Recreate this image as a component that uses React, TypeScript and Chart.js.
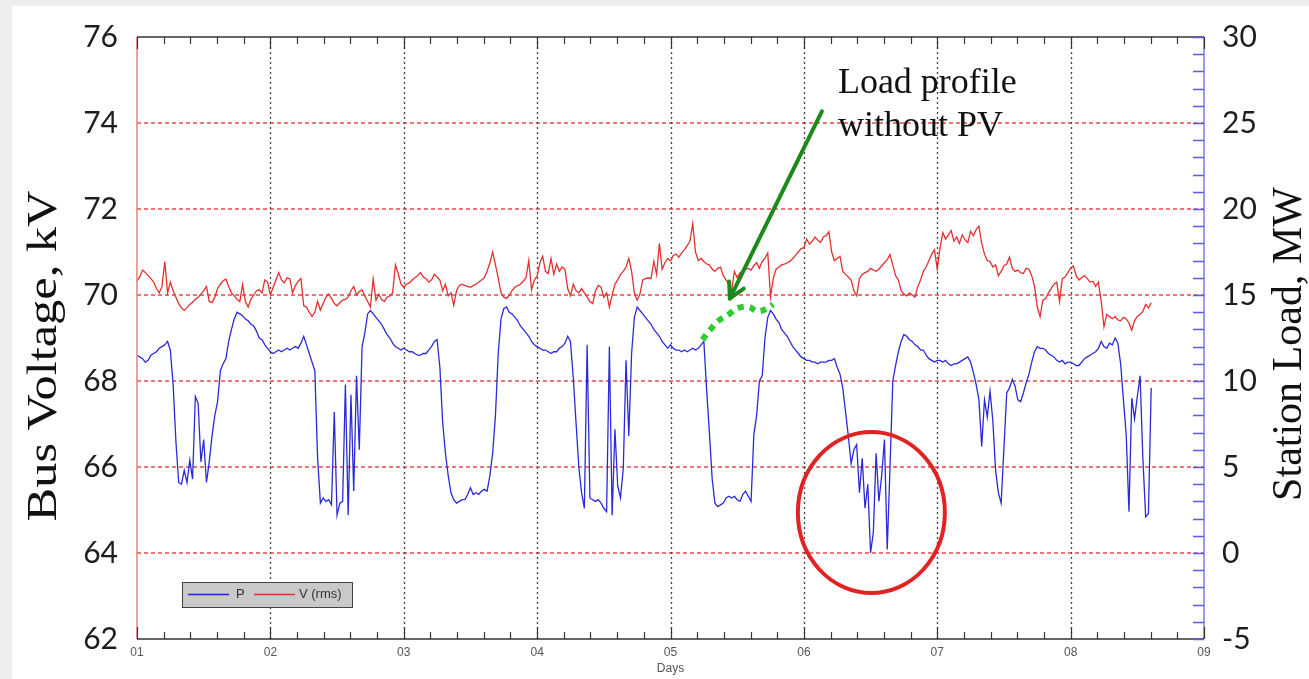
import React, { useEffect, useRef } from "react";
import { Chart, registerables } from "chart.js";
Chart.register(...registerables);

// ---- sampling of the recorded series (days 01..09, half-hour samples)
const DAY_START = 1;
const SAMPLES_PER_DAY = 48;

// ---- Station load P (MW), half-hourly, per day
const pDay1 = [11.5,11.4,11.3,11.1,11.2,11.5,11.6,11.7,11.9,12.0,12.1,12.3,11.8,9.8,6.5,4.1,4.0,4.8,4.1,5.4,4.3,9.1,8.7,5.3,6.6,4.1,5.3,6.8,8.0,8.8,10.6,11.0,11.3,12.3,13.0,13.6,14.0,13.9,13.8,13.6,13.5,13.3,13.2,12.9,12.5,12.4,12.1,11.9];
const pDay2 = [11.7,11.6,11.7,11.8,11.7,11.8,11.9,11.8,11.9,12.0,11.9,12.2,12.6,12.1,11.6,11.1,10.6,5.5,2.9,3.2,3.0,3.1,2.8,8.2,2.2,2.9,3.0,9.8,2.2,9.2,3.6,10.3,6.0,12.0,12.8,13.9,14.1,13.9,13.7,13.5,13.3,13.0,12.7,12.5,12.2,12.0,11.9,11.8];
const pDay3 = [11.9,11.8,11.7,11.7,11.6,11.5,11.5,11.6,11.6,11.8,12.0,12.3,12.4,10.8,7.6,5.8,4.5,3.5,3.1,2.9,3.0,3.1,3.1,3.4,3.8,3.4,3.5,3.4,3.6,3.7,3.6,4.5,5.8,8.0,11.6,13.6,14.2,14.3,14.0,13.9,13.7,13.5,13.2,13.0,12.8,12.6,12.3,12.1];
const pDay4 = [12.0,11.9,11.8,11.8,11.7,11.6,11.7,11.7,11.9,12.0,12.2,12.6,12.3,10.2,7.6,5.0,3.5,2.6,12.1,3.2,3.1,3.0,3.1,2.9,2.6,2.4,12.0,2.2,7.2,3.9,3.2,4.9,11.2,6.8,11.6,13.7,14.3,14.1,13.9,13.7,13.5,13.3,13.0,12.8,12.6,12.3,12.1,11.9];
const pDay5 = [12.1,11.9,11.8,11.8,11.7,11.8,11.7,11.8,11.9,11.8,11.9,12.1,12.3,9.5,7.0,4.3,2.9,2.7,2.8,2.9,3.2,3.3,3.2,3.3,3.1,3.0,3.4,3.6,3.3,3.0,6.9,8.0,10.0,10.3,12.5,13.7,14.1,13.9,13.6,13.4,13.0,12.8,12.6,12.3,12.0,11.8,11.6,11.4];
const pDay6 = [11.3,11.2,11.2,11.1,11.1,11.0,11.1,11.1,11.1,11.2,11.2,11.3,10.8,10.4,9.6,8.2,6.8,5.2,6.0,6.3,3.5,5.5,2.6,4.0,0.0,1.2,5.8,3.0,4.5,6.6,0.2,5.0,10.0,10.9,11.7,12.3,12.7,12.6,12.4,12.3,12.1,12.0,11.8,11.8,11.5,11.3,11.2,11.1];
const pDay7 = [11.2,11.2,11.1,11.2,11.0,10.9,11.0,11.0,11.1,11.2,11.3,11.4,11.1,10.5,9.8,8.9,6.2,8.9,7.9,9.4,7.7,4.8,3.5,2.9,6.1,9.3,9.6,10.1,9.7,8.9,8.8,9.3,9.9,10.4,11.1,11.7,12.0,11.9,11.9,11.8,11.6,11.5,11.4,11.2,11.1,11.2,11.0,11.1];
const pDay8 = [11.1,11.0,10.9,10.9,11.1,11.3,11.4,11.5,11.6,11.7,11.9,12.3,12.0,11.9,12.2,12.1,12.5,12.2,11.0,8.9,6.9,2.4,9.0,7.8,9.1,10.3,5.5,2.1,2.3,9.6];

// ---- Bus voltage V (rms, kV), half-hourly, per day
const vDay1 = [70.33,70.42,70.58,70.52,70.45,70.38,70.30,70.15,70.05,70.20,70.78,70.05,70.30,70.10,69.95,69.80,69.70,69.64,69.70,69.78,69.83,69.90,69.95,70.02,70.10,70.20,69.85,69.82,69.95,70.15,70.25,70.33,70.37,70.20,70.05,69.98,69.90,69.85,70.25,69.85,69.72,69.90,70.00,70.10,70.12,70.05,70.35,70.30];
const vDay2 = [70.00,70.18,70.35,70.52,70.35,70.28,70.40,70.38,70.05,70.22,70.32,70.38,69.75,69.72,69.60,69.50,69.60,69.85,69.65,69.80,69.95,70.02,69.92,69.80,69.75,69.82,69.88,69.90,69.95,70.10,70.20,70.00,70.08,70.12,69.98,69.85,69.72,70.37,69.88,70.02,69.90,69.85,69.95,69.98,70.05,70.70,70.50,70.25];
const vDay3 = [70.18,70.25,70.28,70.35,70.40,70.45,70.52,70.42,70.38,70.30,70.35,70.48,70.42,70.35,70.10,70.25,69.98,70.05,69.76,70.10,70.22,70.25,70.22,70.20,70.18,70.22,70.25,70.30,70.35,70.40,70.55,70.75,71.00,70.70,70.40,70.05,69.95,69.92,70.00,70.10,70.18,70.22,70.25,70.32,70.40,70.80,70.12,70.35];
const vDay4 = [70.44,70.75,70.90,70.55,70.50,70.85,70.48,70.72,70.55,70.65,70.60,70.15,69.98,70.25,70.10,70.05,70.15,70.05,69.95,69.85,69.80,70.10,70.22,70.18,69.95,70.05,69.72,70.00,70.25,70.35,70.48,70.55,70.65,70.85,70.55,70.05,69.88,70.02,70.35,70.38,70.40,70.38,70.78,70.48,71.20,70.60,70.75,70.85];
const vDay5 = [70.79,70.92,70.95,70.88,70.98,71.05,71.15,71.25,71.66,71.00,70.80,70.85,70.78,70.72,70.70,70.60,70.55,70.62,70.65,70.45,70.35,70.25,70.10,70.55,70.40,70.52,70.55,70.60,70.62,70.58,70.68,70.75,70.62,70.78,70.85,70.98,69.95,70.40,70.60,70.65,70.70,70.72,70.75,70.78,70.85,70.92,71.00,71.08];
const vDay6 = [71.10,71.30,71.18,71.25,71.35,71.28,71.22,71.35,71.38,71.47,71.00,70.80,70.85,70.90,70.55,70.48,70.42,70.35,70.10,69.98,70.38,70.48,70.52,70.55,70.62,70.58,70.55,70.60,70.68,70.75,70.82,70.94,70.70,70.45,70.35,70.10,70.02,69.98,70.05,70.00,69.95,70.20,70.35,70.55,70.65,70.80,70.95,71.05];
const vDay7 = [70.60,71.10,71.45,71.30,71.40,71.50,71.25,71.35,71.20,71.40,71.28,71.22,71.48,71.38,71.52,71.60,71.20,70.95,70.80,70.78,70.65,70.70,70.45,70.55,70.68,70.72,70.88,70.62,70.55,70.58,70.52,70.50,70.62,70.60,70.45,70.20,69.72,69.50,69.88,69.92,70.05,70.15,70.25,70.30,69.85,70.38,70.42,70.52];
const vDay8 = [70.63,70.68,70.45,70.35,70.40,70.45,70.38,70.30,70.32,70.20,70.30,69.85,69.26,69.55,69.50,69.45,69.50,69.42,69.40,69.48,69.45,69.35,69.18,69.40,69.50,69.55,69.62,69.78,69.70,69.82];

// ---- "Load profile without PV" sketch (day, MW)
const noPvDays = [5.24, 5.30, 5.36, 5.44, 5.51, 5.59, 5.65, 5.72, 5.77];
const noPvLoad = [12.4, 13.0, 13.5, 13.9, 14.25, 14.3, 14.05, 14.2, 14.45];

// ---- axes
const dayTicks = [1, 2, 3, 4, 5, 6, 7, 8, 9];
const voltageGridValues = [64, 66, 68, 70, 72, 74];
const loadMinorTicks = [-5,-4,-3,-2,-1,0,1,2,3,4,5,6,7,8,9,10,11,12,13,14,15,16,17,18,19,20,21,22,23,24,25,26,27,28,29,30];

// ---- annotations (data units)
const calloutLines = ["Load profile", "without PV"];
const calloutAnchor = { day: 6.255, kv1: 74.91, kv2: 73.92 };
const arrowFrom = { day: 6.135, kv: 74.27 };
const arrowTo = { day: 5.445, kv: 69.92 };
const circleMark = { day: 6.506, mw: 2.35, rDay: 0.551, rMw: 4.68 };

const toPoints = (vals: number[]) =>
  vals.map((y, i) => ({ x: DAY_START + i / SAMPLES_PER_DAY, y }));

const P = [...pDay1, ...pDay2, ...pDay3, ...pDay4, ...pDay5, ...pDay6, ...pDay7, ...pDay8];
const V = [...vDay1, ...vDay2, ...vDay3, ...vDay4, ...vDay5, ...vDay6, ...vDay7, ...vDay8];

const SERIF = '"Liberation Serif", "Times New Roman", serif';
const SANS = '"Liberation Sans", Arial, sans-serif';

const decor = {
  id: "decor",
  beforeDraw(chart: any) {
    const { ctx, width, height } = chart;
    ctx.save();
    ctx.fillStyle = "#eeeeee";
    ctx.fillRect(0, 0, width, height);
    ctx.fillStyle = "#ffffff";
    ctx.fillRect(12, 6, width - 12, height - 6);
    ctx.restore();
  },
  beforeDatasetsDraw(chart: any) {
    const { ctx, chartArea: a, scales } = chart;
    const x = scales.x, y = scales.y;
    ctx.save();
    ctx.lineWidth = 1.6;
    ctx.strokeStyle = "#e84848";
    ctx.setLineDash([4, 3]);
    for (const v of voltageGridValues) {
      const py = Math.round(y.getPixelForValue(v));
      ctx.beginPath(); ctx.moveTo(a.left, py); ctx.lineTo(a.right, py); ctx.stroke();
    }
    ctx.strokeStyle = "#444";
    ctx.lineWidth = 1.3;
    ctx.setLineDash([2, 3]);
    for (const d of dayTicks.slice(1, -1)) {
      const px = Math.round(x.getPixelForValue(d)) + 0.5;
      ctx.beginPath(); ctx.moveTo(px, a.top); ctx.lineTo(px, a.bottom); ctx.stroke();
    }
    ctx.restore();
  },
  afterDatasetsDraw(chart: any) {
    const { ctx, chartArea: a, scales } = chart;
    const x = scales.x, y = scales.y, y2 = scales.y2;
    const line = (x1: number, y1: number, x2: number, y2_: number) => {
      ctx.beginPath(); ctx.moveTo(x1, y1); ctx.lineTo(x2, y2_); ctx.stroke();
    };
    ctx.save();
    ctx.setLineDash([]);
    // frame
    ctx.lineWidth = 1.5;
    ctx.strokeStyle = "#f07a7a";
    line(a.left, a.top, a.left, a.bottom);
    ctx.strokeStyle = "#7b7bf0";
    line(a.right, a.top, a.right, a.bottom);
    ctx.strokeStyle = "#333";
    line(a.left, a.top, a.right, a.top);
    line(a.left, a.bottom, a.right, a.bottom);
    // x ticks (5 per day)
    ctx.lineWidth = 1.2;
    for (let k = 0; k <= (dayTicks.length - 1) * 5; k++) {
      const px = Math.round(x.getPixelForValue(DAY_START + k / 5)) + 0.5;
      const len = k % 5 === 0 ? 12 : 7;
      line(px, a.top, px, a.top + len);
      line(px, a.bottom, px, a.bottom - len);
    }
    // right axis minor ticks
    ctx.strokeStyle = "#5a5aee";
    ctx.lineWidth = 1.5;
    for (const v of loadMinorTicks) {
      const py = Math.round(y2.getPixelForValue(v)) + 0.5;
      line(a.right - 11, py, a.right, py);
    }
    // legend box
    const lx = a.left + 45, ly = a.bottom - 57, lw = 170, lh = 25;
    ctx.fillStyle = "#c9c9c9";
    ctx.fillRect(lx, ly, lw, lh);
    ctx.strokeStyle = "#444";
    ctx.lineWidth = 1;
    ctx.strokeRect(lx + 0.5, ly + 0.5, lw, lh);
    const my = ly + lh / 2;
    ctx.lineWidth = 1.3;
    ctx.strokeStyle = "#2626d6";
    line(lx + 6, my, lx + 47, my);
    ctx.strokeStyle = "#e03030";
    line(lx + 72, my, lx + 113, my);
    ctx.fillStyle = "#333";
    ctx.font = `13px ${SANS}`;
    ctx.textBaseline = "middle";
    ctx.textAlign = "left";
    ctx.fillText("P", lx + 54, my);
    ctx.fillText("V (rms)", lx + 117, my);
    // axis titles
    ctx.fillStyle = "#111";
    ctx.font = `42px ${SERIF}`;
    ctx.textAlign = "center";
    ctx.save();
    ctx.translate(a.left - 92, 356);
    ctx.rotate(-Math.PI / 2);
    ctx.scale(1.2, 1);
    ctx.fillText("Bus Voltage, kV", 0, 0);
    ctx.restore();
    ctx.save();
    ctx.translate(a.right + 86, 344);
    ctx.rotate(-Math.PI / 2);
    ctx.fillText("Station Load, MW", 0, 0);
    ctx.restore();
    ctx.font = `12px ${SANS}`;
    ctx.fillStyle = "#555";
    ctx.fillText("Days", x.getPixelForValue(5), a.bottom + 30);
    // callout text
    ctx.fillStyle = "#111";
    ctx.font = `36px ${SERIF}`;
    ctx.textAlign = "left";
    ctx.fillText(calloutLines[0], x.getPixelForValue(calloutAnchor.day), y.getPixelForValue(calloutAnchor.kv1));
    ctx.fillText(calloutLines[1], x.getPixelForValue(calloutAnchor.day), y.getPixelForValue(calloutAnchor.kv2));
    // arrow
    const ax1 = x.getPixelForValue(arrowFrom.day), ay1 = y.getPixelForValue(arrowFrom.kv);
    const ax2 = x.getPixelForValue(arrowTo.day), ay2 = y.getPixelForValue(arrowTo.kv);
    ctx.strokeStyle = "#1b8a1b";
    ctx.lineWidth = 4;
    ctx.lineCap = "round";
    line(ax1, ay1, ax2, ay2);
    const ang = Math.atan2(ay2 - ay1, ax2 - ax1);
    const wing = 17;
    for (const s of [-1, 1]) {
      const t = ang + Math.PI + s * 0.5;
      line(ax2, ay2, ax2 + wing * Math.cos(t), ay2 + wing * Math.sin(t));
    }
    // red circle
    const cx = x.getPixelForValue(circleMark.day), cy = y2.getPixelForValue(circleMark.mw);
    const rx = Math.abs(x.getPixelForValue(circleMark.day + circleMark.rDay) - cx);
    const ry = Math.abs(y2.getPixelForValue(circleMark.mw + circleMark.rMw) - cy);
    ctx.strokeStyle = "#e02424";
    ctx.lineWidth = 4;
    ctx.beginPath();
    ctx.ellipse(cx, cy, rx, ry, 0, 0, Math.PI * 2);
    ctx.stroke();
    ctx.restore();
  },
};

export default function App() {
  const ref = useRef<HTMLCanvasElement | null>(null);
  useEffect(() => {
    const canvas = ref.current;
    if (!canvas) return;
    const chart = new Chart(canvas, {
      type: "line",
      data: {
        datasets: [
          {
            label: "Load profile without PV",
            data: noPvDays.map((d, i) => ({ x: d, y: noPvLoad[i] })),
            yAxisID: "y2",
            borderColor: "#2ecc2e",
            borderWidth: 6,
            borderDash: [6, 6],
            borderCapStyle: "butt",
            tension: 0.4,
            pointRadius: 0,
            fill: false,
          },
          {
            label: "V (rms)",
            data: toPoints(V),
            yAxisID: "y",
            borderColor: "#e23030",
            borderWidth: 1.3,
            pointRadius: 0,
            tension: 0,
            fill: false,
          },
          {
            label: "P",
            data: toPoints(P),
            yAxisID: "y2",
            borderColor: "#2a2ad8",
            borderWidth: 1.3,
            pointRadius: 0,
            tension: 0,
            fill: false,
          },
        ],
      },
      options: {
        responsive: false,
        animation: false,
        devicePixelRatio: 1,
        parsing: false,
        normalized: true,
        layout: { padding: { top: 35, left: 0, right: 0, bottom: 0 } },
        plugins: { legend: { display: false }, tooltip: { enabled: false } },
        scales: {
          x: {
            type: "linear",
            min: 1,
            max: 9,
            afterBuildTicks: (s: any) => {
              s.ticks = dayTicks.map((v) => ({ value: v }));
            },
            afterFit: (s: any) => {
              s.height = 40;
            },
            ticks: {
              callback: (v: any) => String(v).padStart(2, "0"),
              font: { family: "Liberation Sans", size: 12 },
              color: "#555",
              padding: 6,
              maxRotation: 0,
              autoSkip: false,
            },
            grid: { display: false, drawTicks: false },
            border: { display: false },
          },
          y: {
            position: "left",
            min: 62,
            max: 76,
            afterFit: (s: any) => {
              s.width = 137;
            },
            ticks: {
              stepSize: 2,
              font: { family: "Lato", size: 30 },
              color: "#1e1e1e",
              padding: 19,
            },
            grid: { display: false, drawTicks: false },
            border: { display: false },
          },
          y2: {
            position: "right",
            min: -5,
            max: 30,
            afterFit: (s: any) => {
              s.width = 105;
            },
            ticks: {
              stepSize: 5,
              font: { family: "Lato", size: 30 },
              color: "#1e1e1e",
              padding: 18,
            },
            grid: { display: false, drawTicks: false },
            border: { display: false },
          },
        },
      } as any,
      plugins: [decor as any],
    });
    return () => chart.destroy();
  }, []);
  return (
    <div style={{ position: "absolute", left: 0, top: 0, width: 1309, height: 679 }}>
      <canvas ref={ref} width={1309} height={679} style={{ display: "block" }} />
    </div>
  );
}
